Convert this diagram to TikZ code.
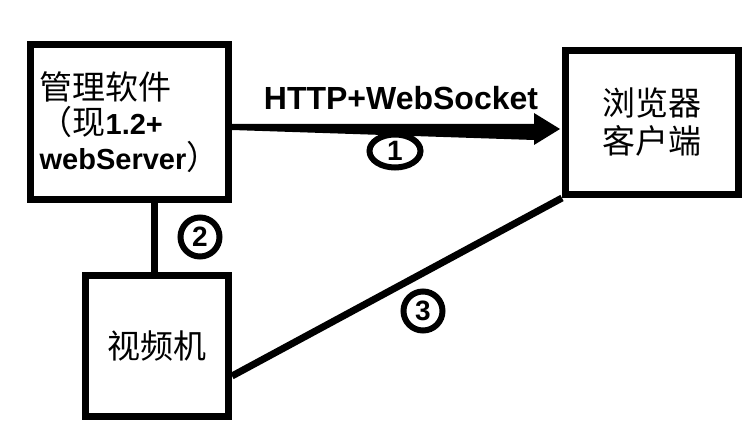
\documentclass[tikz,border=0pt]{standalone}
\usepackage{fontspec}
\setmainfont{Liberation Sans}
\newfontfamily\cjk{Noto Sans CJK SC}
\usetikzlibrary{shapes.geometric,calc}

\begin{document}
\begin{tikzpicture}[x=1pt,y=-1pt,
    box/.style={draw,rectangle,line width=7pt,inner sep=0pt},
    num/.style={draw,line width=6pt,inner sep=0pt,font=\fontsize{28}{28}\selectfont\bfseries}]
      \useasboundingbox (0,0) rectangle (752,446);

      \node[box,minimum width=198pt,minimum height=155pt,align=left,
        font=\fontsize{29}{35}\selectfont\bfseries] (1) at (129.5,122)
        {{\cjk\mdseries\fontsize{33}{35}\selectfont 管理软件}\\{\cjk\mdseries\fontsize{33}{35}\selectfont （现}1.2+\\webServer{\cjk\mdseries\fontsize{33}{35}\selectfont ）}};
      \node[box,minimum width=173pt,minimum height=144pt,align=center,
        font=\cjk\fontsize{33}{38}\selectfont] (2) at (652,122.5) {浏览器\\客户端};
      \node[box,minimum width=143pt,minimum height=141pt,
        font=\cjk\fontsize{33}{38}\selectfont] (3) at (157,346) {视频机};

      \node[font=\fontsize{32}{32}\selectfont\bfseries] (http) at (401,98) {HTTP+WebSocket};
      \node[num,ellipse,minimum width=51pt,minimum height=33pt] (c1) at (395,151) {1};
      \node[num,circle,minimum size=39pt] (c2) at (200,237) {2};
      \node[num,circle,minimum size=39pt] (c3) at (423,311) {3};

      \coordinate (a) at ($(1.east)+(0,5)$);
      \coordinate (t) at ($(2.west)+(-2,6.5)$);
      \fill ($(a)+(0,-3)$) -- ($(t)+(-26,-5)$) -- ($(t)+(-26,-16)$) -- (t)
        -- ($(t)+(-26,16)$) -- ($(t)+(-26,11)$) -- ($(a)+(0,3)$) -- cycle;
      \draw[line width=7pt] ($(1.south)+(24.5,0)$) -- ($(3.north)+(-3,0)$);
      \draw[line width=7pt] ($(3.south east)+(0,-44)$) -- (2.south west);
    \end{tikzpicture}
\end{document}
